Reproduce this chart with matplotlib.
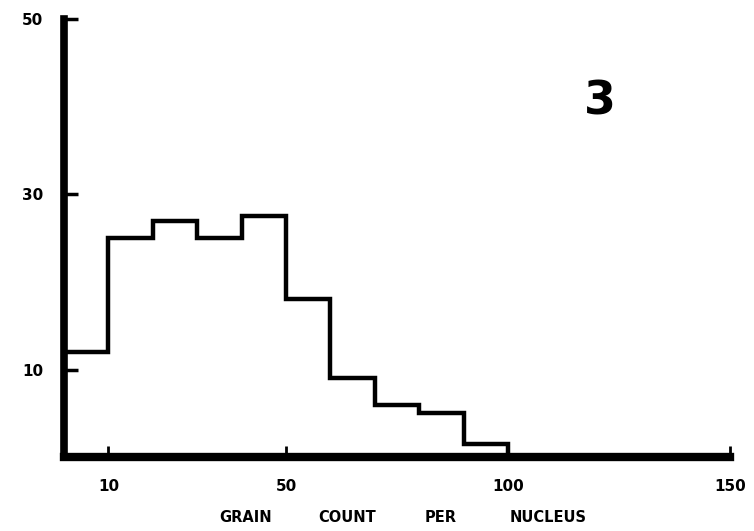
import matplotlib
matplotlib.use('Agg')
import matplotlib.pyplot as plt

edges=[0,10,20,30,40,50,60,70,80,90,100] #bin edges, grain count
counts=[12,25,27,25,27.5,18,9,6,5,1.5] #nuclei per bin
xticks=[10,50,100,150] #x tick positions
yticks=[10,30,50] #y tick positions
words=['GRAIN','COUNT','PER','NUCLEUS'] #axis label words
word_x=[246,347,441,548] #word centres in pixels

fig=plt.figure(figsize=(7.54,5.31),dpi=100) #754x531 canvas
ax=fig.add_axes([0.085,0.139,0.883,0.825])

ax.stairs(counts,edges,color='black',linewidth=3.2,baseline=0,clip_on=False) #histogram outline

ax.set_xlim(0,150)
ax.set_ylim(0,50)

for side in ['top','right']:
    ax.spines[side].set_visible(False)
ax.spines['left'].set_linewidth(5.5)
ax.spines['bottom'].set_linewidth(6)
ax.spines['left'].set_capstyle('projecting')
ax.spines['bottom'].set_capstyle('projecting')

ax.set_xticks(xticks)
ax.set_yticks(yticks)
ax.tick_params(axis='x',direction='in',length=8,width=2,pad=16)
ax.tick_params(axis='y',direction='in',length=10,width=2.5,pad=15)
for lbl in ax.get_xticklabels()+ax.get_yticklabels():
    lbl.set_fontsize(11)
    lbl.set_fontweight('bold')

fig.text(600/754,1-102/531,'3',fontsize=33,fontweight='bold',ha='center',va='center') #panel number

for w,px in zip(words,word_x): #x axis title, spaced like the original lettering
    fig.text(px/754,1-518/531,w,fontsize=10.5,fontweight='bold',ha='center',va='center')

plt.savefig('out.png',dpi=100)
